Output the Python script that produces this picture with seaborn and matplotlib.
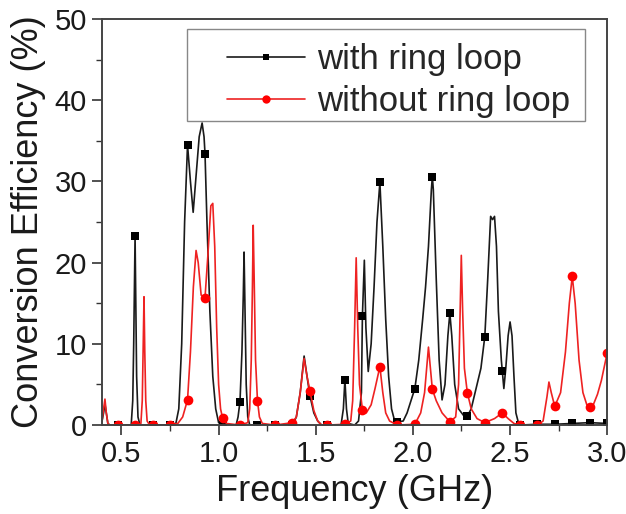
import numpy as np
import pandas as pd
import matplotlib
matplotlib.use("Agg")
import matplotlib.pyplot as plt
from matplotlib.lines import Line2D
from matplotlib.patches import Rectangle
from matplotlib.ticker import MultipleLocator
import seaborn as sns

# Conversion efficiency spectra (frequency in GHz, efficiency in %)
freq_ring = [0.40, 0.408, 0.415, 0.422, 0.43, 0.44, 0.48, 0.55, 0.558, 0.563, 0.567, 0.57,
             0.574, 0.578, 0.585, 0.595, 0.66, 0.75, 0.78, 0.795, 0.81, 0.825, 0.84, 0.855,
             0.869, 0.885, 0.90, 0.915, 0.925, 0.93, 0.94, 0.955, 0.97, 0.985, 1.00, 1.02,
             1.09, 1.10, 1.11, 1.12, 1.127, 1.131, 1.136, 1.142, 1.15, 1.16, 1.20, 1.29,
             1.38, 1.40, 1.42, 1.44, 1.455, 1.47, 1.49, 1.51, 1.53, 1.56, 1.63, 1.642, 1.65,
             1.658, 1.667, 1.70, 1.72, 1.735, 1.74, 1.75, 1.758, 1.77, 1.785, 1.80, 1.815,
             1.83, 1.845, 1.86, 1.875, 1.89, 1.905, 1.92, 1.95, 1.97, 1.99, 2.01, 2.03, 2.05,
             2.065, 2.08, 2.095, 2.10, 2.105, 2.12, 2.135, 2.15, 2.165, 2.18, 2.19, 2.20,
             2.215, 2.235, 2.26, 2.28, 2.30, 2.32, 2.35, 2.37, 2.385, 2.40, 2.41, 2.42, 2.43,
             2.44, 2.455, 2.46, 2.468, 2.478, 2.49, 2.50, 2.51, 2.52, 2.53, 2.545, 2.55,
             2.64, 2.73, 2.82, 2.91, 3.00]
eff_ring = [0.5, 1.5, 2.6, 1.5, 0.2, 0.0, 0.0, 0.0, 3.0, 10.0, 18.0, 23.3,
            15.0, 6.0, 1.0, 0.0, 0.0, 0.0, 0.2, 2.0, 10.0, 25.0, 34.5, 30.0,
            26.2, 31.0, 35.5, 37.2, 35.5, 33.4, 25.0, 14.0, 6.0, 2.0, 0.3, 0.0,
            0.0, 1.0, 2.9, 9.0, 16.0, 21.3, 14.0, 5.0, 1.0, 0.0, 0.0, 0.0,
            0.0, 1.0, 4.0, 8.5, 6.0, 3.6, 1.5, 0.5, 0.0, 0.0, 0.0, 2.0, 5.6,
            2.0, 0.2, 0.0, 0.5, 4.0, 13.4, 20.3, 12.0, 6.6, 10.0, 17.0, 25.0,
            29.9, 22.0, 13.0, 6.0, 2.0, 0.6, 0.4, 0.5, 1.5, 3.0, 4.5, 8.0, 13.0,
            17.0, 22.0, 29.0, 30.6, 29.0, 18.0, 8.0, 3.1, 5.0, 11.0, 13.8, 11.0,
            5.0, 2.0, 1.2, 1.1, 2.0, 4.0, 7.0, 10.9, 18.0, 25.7, 25.3, 25.7, 22.0,
            14.0, 8.0, 6.6, 4.5, 7.0, 11.0, 12.7, 11.0, 6.0, 1.5, 0.1, 0.0,
            0.1, 0.1, 0.2, 0.3, 0.2]

freq_plain = [0.40, 0.408, 0.415, 0.422, 0.43, 0.44, 0.48, 0.57, 0.60, 0.607, 0.612, 0.616,
              0.62, 0.625, 0.632, 0.645, 0.66, 0.75, 0.79, 0.815, 0.84, 0.855, 0.87, 0.884,
              0.895, 0.91, 0.93, 0.945, 0.96, 0.97, 0.98, 0.99, 1.00, 1.01, 1.02, 1.04, 1.11,
              1.15, 1.16, 1.168, 1.174, 1.178, 1.183, 1.19, 1.20, 1.21, 1.225, 1.29, 1.38,
              1.40, 1.42, 1.44, 1.455, 1.47, 1.49, 1.51, 1.53, 1.56, 1.65, 1.68, 1.69, 1.70,
              1.708, 1.716, 1.725, 1.74, 1.76, 1.785, 1.805, 1.83, 1.845, 1.86, 1.88, 1.92,
              2.01, 2.04, 2.06, 2.08, 2.09, 2.10, 2.12, 2.15, 2.19, 2.22, 2.235, 2.243, 2.249,
              2.256, 2.265, 2.28, 2.30, 2.33, 2.37, 2.42, 2.46, 2.49, 2.52, 2.55, 2.64, 2.67,
              2.69, 2.70, 2.712, 2.73, 2.76, 2.785, 2.805, 2.82, 2.835, 2.855, 2.875, 2.895,
              2.91, 2.93, 2.95, 2.97, 3.00]
eff_plain = [0.5, 2.0, 3.2, 1.5, 0.2, 0.0, 0.0, 0.0, 0.2, 3.0, 10.0, 15.8,
             9.0, 3.0, 0.5, 0.0, 0.0, 0.0, 0.2, 1.0, 3.1, 9.0, 17.0, 21.5,
             20.0, 16.0, 15.7, 21.0, 27.0, 27.3, 22.0, 12.0, 5.0, 2.0, 0.9, 0.2, 0.0,
             0.3, 2.0, 8.0, 17.0, 24.6, 18.0, 8.0, 3.0, 1.0, 0.2, 0.0, 0.3,
             1.0, 4.0, 8.2, 6.0, 4.2, 1.8, 0.5, 0.0, 0.0, 0.1, 0.5, 3.0, 12.0,
             20.6, 12.0, 5.0, 1.9, 1.5, 2.5, 4.5, 7.2, 4.0, 1.5, 0.5, 0.0,
             0.1, 1.5, 4.0, 9.6, 7.0, 4.4, 3.0, 1.5, 0.4, 1.0, 5.0, 14.0, 20.9,
             14.0, 7.0, 4.0, 2.0, 0.8, 0.3, 0.8, 1.5, 0.8, 0.2, 0.0, 0.0, 0.5,
             3.5, 5.3, 4.0, 2.3, 4.0, 9.0, 15.0, 18.3, 15.0, 8.0, 4.0, 2.5,
             2.2, 2.6, 3.8, 5.5, 8.9]

# Frequencies carrying a symbol on both curves
marker_freq = [0.48, 0.57, 0.66, 0.75, 0.84, 0.93, 1.02, 1.11, 1.20, 1.29, 1.38, 1.47,
               1.56, 1.65, 1.74, 1.83, 1.92, 2.01, 2.10, 2.19, 2.28, 2.37, 2.46, 2.55,
               2.64, 2.73, 2.82, 2.91, 3.00]

labels = ["with ring loop", "without ring loop"]
x_ticks = [0.5, 1.0, 1.5, 2.0, 2.5, 3.0]
y_ticks = [0, 10, 20, 30, 40, 50]

sns.set_style("ticks")
plt.rcParams["font.family"] = ["Liberation Sans", "DejaVu Sans"]

ring_df = pd.DataFrame({"freq": freq_ring, "eff": eff_ring})
plain_df = pd.DataFrame({"freq": freq_plain, "eff": eff_plain})


def mark_idx(df):
    return [i for i, f in enumerate(df["freq"]) if np.any(np.isclose(f, marker_freq))]


fig = plt.figure(figsize=(6.26, 5.14), dpi=100)
ax = fig.add_axes([0.163, 0.173, 0.807, 0.790])

black = "#1a1a1a"
red = "#ee2222"

sns.lineplot(data=ring_df, x="freq", y="eff", ax=ax, color=black, lw=1.2,
             marker="s", markersize=6, markeredgewidth=0, markerfacecolor="black",
             markevery=mark_idx(ring_df), estimator=None, errorbar=None, sort=False)
sns.lineplot(data=plain_df, x="freq", y="eff", ax=ax, color=red, lw=1.2,
             marker="o", markersize=7, markeredgewidth=0, markerfacecolor="#ff0000",
             markevery=mark_idx(plain_df), estimator=None, errorbar=None, sort=False)

ax.set_xlim(0.4, 3.0)
ax.set_ylim(0, 50)
ax.set_xticks(x_ticks)
ax.set_yticks(y_ticks)
ax.xaxis.set_minor_locator(MultipleLocator(0.25))
ax.yaxis.set_minor_locator(MultipleLocator(5))
ax.tick_params(which="major", direction="out", length=7, width=1.2, labelsize=21,
               colors="#333333", labelcolor="#1a1a1a", pad=4)
ax.tick_params(which="minor", direction="out", length=4, width=1.0, colors="#333333")
for side in ["top", "right", "bottom", "left"]:
    ax.spines[side].set_visible(True)
    ax.spines[side].set_color("#444444")
    ax.spines[side].set_linewidth(1.4)

ax.set_xlabel("Frequency (GHz)", fontsize=26, color="#1a1a1a", labelpad=4)
ax.set_ylabel("Conversion Efficiency (%)", fontsize=26, color="#1a1a1a", labelpad=6)

# Legend frame drawn separately so it can be wider than its entries
ax.add_patch(Rectangle((0.168, 0.749), 0.788, 0.226, transform=ax.transAxes,
                       facecolor="white", edgecolor="#888888", lw=1.0, zorder=4))
handles = [
    Line2D([], [], color=black, lw=1.2, marker="s", markersize=5,
           markeredgewidth=0, markerfacecolor="black"),
    Line2D([], [], color=red, lw=1.2, marker="o", markersize=6,
           markeredgewidth=0, markerfacecolor="#ff0000"),
]
leg = ax.legend(handles, labels, loc="upper left", bbox_to_anchor=(0.2475, 0.941),
                fontsize=25, frameon=False, borderaxespad=0, borderpad=0,
                handlelength=2.25, handletextpad=0.35, labelspacing=0.26, numpoints=1)
leg.set_zorder(5)

fig.savefig("out.png", dpi=100, facecolor="white")
